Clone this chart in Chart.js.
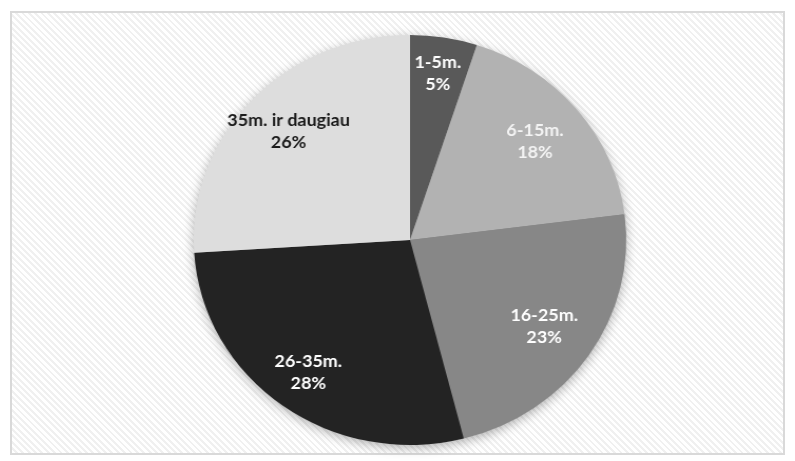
<!DOCTYPE html>
<html>
<head>
<meta charset="utf-8">
<script src="https://cdn.jsdelivr.net/npm/chart.js@4"></script>
<style>
  html, body { margin: 0; padding: 0; background: #fff; }
  body { width: 795px; height: 461px; position: relative; overflow: hidden; }
  .frame {
    position: absolute; left: 10px; top: 11px; width: 771px; height: 440px;
    border: 2px solid #d9d9d9;
    background: repeating-linear-gradient(45deg, #ffffff 0px, #ffffff 2.5px, #f0f0f0 2.5px, #f0f0f0 4.5px);
  }
  .wrap {
    position: absolute; left: 0; top: 0; width: 795px; height: 461px;
    transform: scaleX(1.055); transform-origin: 410px 240px;
  }
</style>
</head>
<body>
<div class="frame"></div>
<div class="wrap"><canvas id="pie" width="795" height="461"></canvas></div>
<script>
// darbo stazas grupemis, procentais
const categories = ['1-5m.', '6-15m.', '16-25m.', '26-35m.', '35m. ir daugiau'];
const shares = [5, 18, 23, 28, 26];
const sliceColors = ['#595959', '#b2b2b2', '#878787', '#232323', '#dddddd'];
const textColors = ['#ffffff', '#f4f4f4', '#ffffff', '#ffffff', '#1a1a1a'];

// soft shadow under the whole pie, drawn once before the slices
const pieShadow = {
  id: 'pieShadow',
  beforeDatasetsDraw(chart) {
    const arc = chart.getDatasetMeta(0).data[0];
    if (!arc) return;
    const ctx = chart.ctx;
    ctx.save();
    ctx.shadowColor = 'rgba(0,0,0,0.35)';
    ctx.shadowBlur = 12;
    ctx.shadowOffsetY = 3;
    ctx.fillStyle = '#888';
    ctx.beginPath();
    ctx.arc(arc.x, arc.y, arc.outerRadius - 1, 0, Math.PI * 2);
    ctx.fill();
    ctx.restore();
  }
};

// category + percent inside every slice, placed along the slice's mid angle
const labelDepth = [0.82, 0.75, 0.75, 0.80, 0.77];
const sliceLabels = {
  id: 'sliceLabels',
  afterDatasetsDraw(chart) {
    const ctx = chart.ctx;
    const meta = chart.getDatasetMeta(0);
    ctx.save();
    ctx.font = 'bold 17px Lato, "Open Sans", sans-serif';
    ctx.textAlign = 'center';
    ctx.textBaseline = 'middle';
    meta.data.forEach((arc, i) => {
      const mid = (arc.startAngle + arc.endAngle) / 2;
      const r = arc.outerRadius * labelDepth[i];
      const x = arc.x + Math.cos(mid) * r;
      const y = arc.y + Math.sin(mid) * r;
      ctx.fillStyle = textColors[i];
      ctx.fillText(categories[i], x, y - 11);
      ctx.fillText(shares[i] + '%', x, y + 11);
    });
    ctx.restore();
  }
};

new Chart(document.getElementById('pie'), {
  type: 'pie',
  data: {
    labels: categories,
    datasets: [{
      data: shares,
      backgroundColor: sliceColors,
      borderWidth: 0
    }]
  },
  options: {
    responsive: false,
    animation: false,
    layout: { padding: { left: 25, right: 0, top: 35, bottom: 16 } },
    plugins: {
      legend: { display: false },
      tooltip: { enabled: false }
    }
  },
  plugins: [pieShadow, sliceLabels]
});
</script>
</body>
</html>
